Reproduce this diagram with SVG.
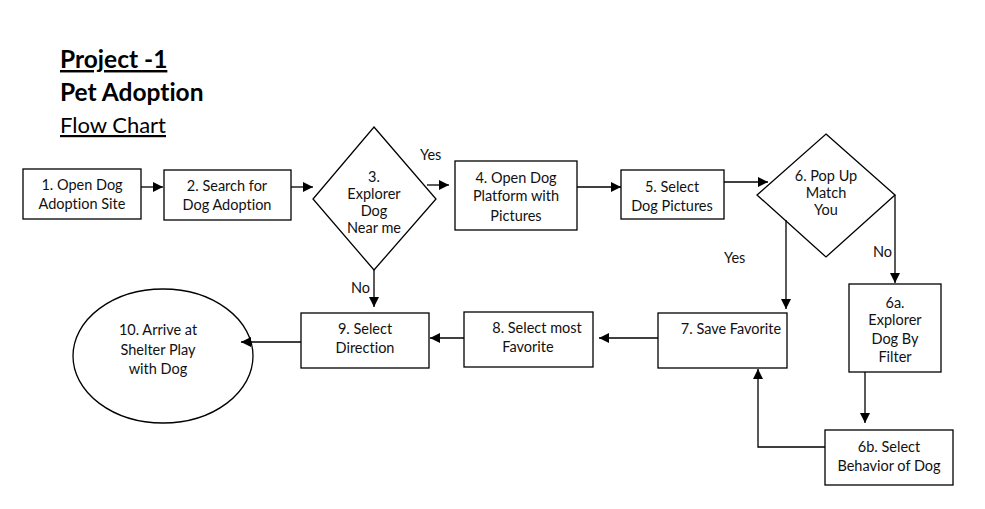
<svg xmlns="http://www.w3.org/2000/svg" width="985" height="509" viewBox="0 0 985 509">
<defs>
<marker id="ah" viewBox="0 0 10 10" refX="10" refY="5" markerWidth="10" markerHeight="10" markerUnits="userSpaceOnUse" orient="auto">
<path d="M0,0 L10,5 L0,10 z" fill="#000"/>
</marker>
<style>
text{font-variant-ligatures:none}
.n{fill:#fff;stroke:#000;stroke-width:1.3}
.t{font-family:Lato,"Liberation Sans",sans-serif;font-size:14.5px;fill:#111;text-anchor:middle}
.l{font-family:Lato,"Liberation Sans",sans-serif;font-size:14.5px;fill:#111}
.c{fill:none;stroke:#000;stroke-width:1.3;marker-end:url(#ah)}
.h{font-family:Lato,"Liberation Sans",sans-serif;fill:#000}
</style>
</defs>
<rect width="985" height="509" fill="#fff"/>
<g id="title">
<text class="h" x="60" y="68" font-size="24.5" font-weight="bold" text-decoration="underline">Project -1</text>
<text class="h" x="60" y="101" font-size="24.5" font-weight="bold">Pet Adoption</text>
<text class="h" x="60" y="133" font-size="22" text-decoration="underline">Flow Chart</text>
</g>
<g id="n1"><rect class="n" x="23" y="169" width="118" height="50"/>
<text class="t" x="82" y="190">1.  Open Dog</text><text class="t" x="82" y="209">Adoption Site</text></g>
<g id="n2"><rect class="n" x="164" y="170" width="127" height="50"/>
<text class="t" x="227" y="191">2. Search for</text><text class="t" x="227" y="210">Dog Adoption</text></g>
<g id="n3"><path class="n" d="M374,127 L436,199 L374,270 L313,199 Z"/>
<text class="t" x="374" y="182" font-size="13.5">3.</text><text class="t" x="374" y="199" font-size="13.5">Explorer</text><text class="t" x="374" y="216" font-size="13.5">Dog</text><text class="t" x="374" y="233" font-size="13.5">Near me</text></g>
<g id="n4"><rect class="n" x="455" y="161" width="122" height="69"/>
<text class="t" x="516" y="183">4. Open Dog</text><text class="t" x="516" y="201">Platform with</text><text class="t" x="516" y="221">Pictures</text></g>
<g id="n5"><rect class="n" x="621" y="170" width="103" height="49"/>
<text class="t" x="672" y="192">5. Select</text><text class="t" x="672" y="211">Dog Pictures</text></g>
<g id="n6"><path class="n" d="M826,134 L895,195 L826,257 L757,195 Z"/>
<text class="t" x="826" y="181" font-size="13.5">6. Pop Up</text><text class="t" x="826" y="198" font-size="13.5">Match</text><text class="t" x="826" y="215" font-size="13.5">You</text></g>
<g id="n6a"><rect class="n" x="849" y="284" width="92" height="88"/>
<text class="t" x="895" y="308">6a.</text><text class="t" x="895" y="325">Explorer</text><text class="t" x="895" y="344">Dog By</text><text class="t" x="895" y="362">Filter</text></g>
<g id="n6b"><rect class="n" x="825" y="430" width="128" height="55"/>
<text class="t" x="889" y="452">6b. Select</text><text class="t" x="889" y="471">Behavior of Dog</text></g>
<g id="n7"><rect class="n" x="658" y="313" width="129" height="55"/>
<text class="t" x="731" y="334">7. Save Favorite</text></g>
<g id="n8"><rect class="n" x="464" y="312" width="129" height="55"/>
<text class="t" x="537" y="333">8. Select most</text><text class="t" x="528" y="352">Favorite</text></g>
<g id="n9"><rect class="n" x="301" y="313" width="128" height="55"/>
<text class="t" x="365" y="334">9. Select</text><text class="t" x="365" y="353">Direction</text></g>
<g id="n10"><ellipse class="n" cx="163" cy="356" rx="90" ry="67"/>
<text class="t" x="158" y="335">10. Arrive at</text><text class="t" x="158" y="355">Shelter Play</text><text class="t" x="158" y="374">with Dog</text></g>
<g id="connectors">
<path class="c" d="M141,187 H163"/>
<path class="c" d="M291,187 H313"/>
<path class="c" d="M427,185 H449"/>
<path class="c" d="M577,187 H621"/>
<path class="c" d="M724,182 H768"/>
<path class="c" d="M786,220 V309"/>
<path class="c" d="M895,195 V283"/>
<path class="c" d="M865,372 V423" stroke="#555"/>
<path class="c" d="M825,447 H758 V369"/>
<path class="c" d="M658,338 H599"/>
<path class="c" d="M464,338 H430"/>
<path class="c" d="M301,342 H241"/>
<path class="c" d="M374,270 V307"/>
<text class="l" x="420" y="160">Yes</text>
<text class="l" x="724" y="263">Yes</text>
<text class="l" x="873" y="257">No</text>
<text class="l" x="351" y="293">No</text>
</g>
</svg>
